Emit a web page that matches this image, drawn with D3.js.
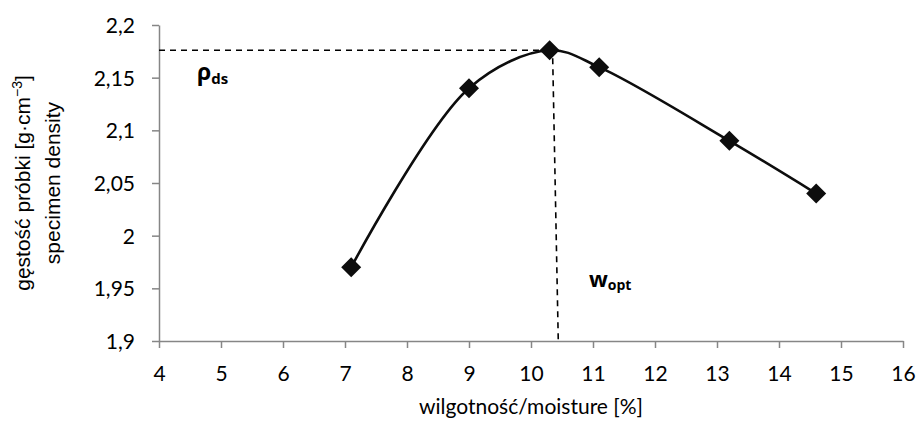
<!DOCTYPE html>
<html>
<head>
<meta charset="utf-8">
<script src="https://cdn.jsdelivr.net/npm/d3@7"></script>
<style>
  body { margin: 0; background: #fff; }
  svg text { fill: #000; }
</style>
</head>
<body>
<div id="chart"></div>
<script>
const moisture = [7.1, 9.0, 10.3, 11.1, 13.2, 14.6]
const density = [1.97, 2.14, 2.176, 2.16, 2.09, 2.04]
const xTicks = [4, 5, 6, 7, 8, 9, 10, 11, 12, 13, 14, 15, 16]
const yTicks = [1.9, 1.95, 2.0, 2.05, 2.1, 2.15, 2.2]
const rhoDs = 2.176
const wOptTop = 10.35
const wOptBottom = 10.44

const W = 916, H = 428
const margin = { left: 159, right: 13, top: 25, bottom: 87 }
const innerW = W - margin.left - margin.right
const innerH = H - margin.top - margin.bottom

const svg = d3.select("#chart").append("svg")
    .attr("width", W).attr("height", H)

const g = svg.append("g")
    .attr("transform", `translate(${margin.left},${margin.top})`)

const x = d3.scaleLinear().domain([4, 16]).range([0, innerW])
const y = d3.scaleLinear().domain([1.9, 2.2]).range([innerH, 0])

const fmt = d => String(+d.toFixed(2)).replace(".", ",")
const axisColor = "#868686"
const tickFont = "Lato, 'Open Sans', sans-serif"

// axes
const ax = g.append("g").attr("transform", `translate(0,${innerH})`)
    .call(d3.axisBottom(x).tickValues(xTicks).tickFormat(fmt).tickSize(7).tickSizeOuter(0))
const ay = g.append("g")
    .call(d3.axisLeft(y).tickValues(yTicks).tickFormat(fmt).tickSize(7).tickSizeOuter(0))

;[ax, ay].forEach(a => {
    a.select(".domain").attr("stroke", axisColor).attr("stroke-width", 1.5)
    a.selectAll(".tick line").attr("stroke", axisColor).attr("stroke-width", 1.5)
    a.selectAll(".tick text").attr("font-family", tickFont).attr("font-size", 21).attr("fill", "#000")
})
ax.selectAll(".tick text").attr("y", 0).attr("dy", 0)
    .attr("transform", "translate(0,40)")
ay.selectAll(".tick text").attr("x", -24).attr("dy", "0.36em")

// dashed guide lines
g.append("line")
    .attr("x1", x(4)).attr("x2", x(moisture[2]))
    .attr("y1", y(rhoDs)).attr("y2", y(rhoDs))
    .attr("stroke", "#000").attr("stroke-width", 1.6)
    .attr("stroke-dasharray", "6,5")
g.append("line")
    .attr("x1", x(wOptTop)).attr("x2", x(wOptBottom))
    .attr("y1", y(rhoDs) + 8).attr("y2", y(1.9))
    .attr("stroke", "#000").attr("stroke-width", 1.6)
    .attr("stroke-dasharray", "6,5")

// smooth line
const pts = moisture.map((m, i) => [m, density[i]])
const line = d3.line()
    .x(d => x(d[0])).y(d => y(d[1]))
    .curve(d3.curveCatmullRom.alpha(0.5))
g.append("path").datum(pts)
    .attr("d", line)
    .attr("fill", "none").attr("stroke", "#0d0d0d").attr("stroke-width", 2.6)

// diamond markers
const s = 10
g.selectAll("path.mark").data(pts).join("path")
    .attr("class", "mark")
    .attr("d", d => {
        const cx = x(d[0]), cy = y(d[1])
        return `M${cx},${cy - s}L${cx + s},${cy}L${cx},${cy + s}L${cx - s},${cy}Z`
    })
    .attr("fill", "#0d0d0d")

// annotations
const rho = svg.append("text")
    .attr("x", 197).attr("y", 80)
    .attr("font-family", "'Open Sans', sans-serif").attr("font-weight", "bold")
    .attr("font-size", 23)
rho.append("tspan").text("ρ")
rho.append("tspan").text("ds").attr("font-size", 15).attr("dy", 4)

const wopt = svg.append("text")
    .attr("x", 589).attr("y", 287)
    .attr("font-family", "'Open Sans', sans-serif").attr("font-weight", "bold")
    .attr("font-size", 22)
wopt.append("tspan").text("w")
wopt.append("tspan").text("opt").attr("font-size", 14).attr("dy", 3)

// axis titles
svg.append("text")
    .attr("x", margin.left + x(10)).attr("y", 414)
    .attr("text-anchor", "middle")
    .attr("font-family", tickFont).attr("font-size", 21)
    .text("wilgotność/moisture [%]")

const yt = svg.append("text")
    .attr("transform", "translate(0,183) rotate(-90)")
    .attr("text-anchor", "middle")
    .attr("font-family", "'Liberation Sans', Arial, sans-serif").attr("font-size", 21)
const l1 = yt.append("tspan").attr("x", 0).attr("y", 30)
l1.append("tspan").text("gęstość próbki [g·cm")
l1.append("tspan").text("−3").attr("font-size", 14).attr("dy", -8)
l1.append("tspan").text("]").attr("dy", 8)
yt.append("tspan").attr("x", 0).attr("y", 60).text("specimen density")
</script>
</body>
</html>
